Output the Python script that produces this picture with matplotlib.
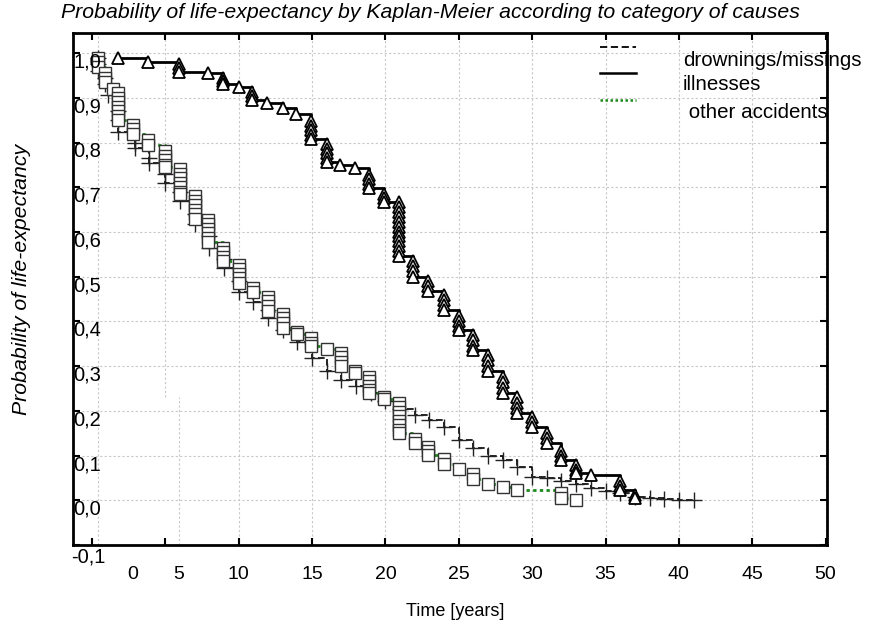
import matplotlib
matplotlib.use('Agg')
import matplotlib.pyplot as plt
import matplotlib.transforms as mtransforms

plt.rcParams['font.family'] = ['Liberation Sans', 'DejaVu Sans']

# Kaplan-Meier estimates (one entry per plotted marker)
ill_t = [1.8, 3.8, 5.9, 5.9, 5.9, 7.9, 8.9, 8.9, 8.9, 10.0, 10.9, 10.9, 10.9, 11.9, 13.0, 13.9,
         14.9, 14.9, 14.9, 14.9, 14.9, 16.0, 16.0, 16.0, 16.0, 16.0, 16.9, 17.9,
         18.9, 18.9, 18.9, 18.9, 19.9, 19.9, 19.9,
         20.9, 20.9, 20.9, 20.9, 20.9, 20.9, 20.9, 20.9, 20.9, 20.9, 20.9, 20.9,
         21.9, 21.9, 21.9, 21.9, 22.9, 22.9, 22.9, 24.0, 24.0, 24.0, 24.0,
         25.0, 25.0, 25.0, 25.0, 26.0, 26.0, 26.0, 26.0, 27.0, 27.0, 27.0, 27.0,
         28.0, 28.0, 28.0, 28.0, 29.0, 29.0, 29.0, 29.0, 30.0, 30.0, 30.0,
         31.0, 31.0, 31.0, 32.0, 32.0, 32.0, 33.0, 33.0, 33.0, 34.0,
         36.0, 36.0, 36.0, 37.0, 37.0]
ill_s = [0.990, 0.980, 0.975, 0.966, 0.958, 0.955, 0.945, 0.937, 0.930, 0.925, 0.914, 0.905, 0.896,
         0.888, 0.877, 0.864,
         0.848, 0.838, 0.828, 0.818, 0.808, 0.796, 0.786, 0.776, 0.766, 0.756, 0.750, 0.742,
         0.728, 0.718, 0.708, 0.698, 0.686, 0.676, 0.667,
         0.667, 0.656, 0.645, 0.634, 0.623, 0.612, 0.601, 0.590, 0.579, 0.568, 0.557, 0.546,
         0.536, 0.524, 0.512, 0.500, 0.490, 0.479, 0.468, 0.458, 0.447, 0.436, 0.425,
         0.412, 0.401, 0.390, 0.380, 0.370, 0.358, 0.346, 0.336, 0.325, 0.313, 0.301, 0.290,
         0.276, 0.264, 0.252, 0.240, 0.230, 0.218, 0.206, 0.195, 0.186, 0.174, 0.163,
         0.150, 0.139, 0.128, 0.110, 0.100, 0.090, 0.078, 0.068, 0.060, 0.056,
         0.042, 0.033, 0.024, 0.012, 0.004]

oth_t = [0.4, 0.4, 0.4, 0.9, 0.9, 0.9, 1.4, 1.8, 1.8, 1.8, 1.8, 1.8, 1.8, 1.8,
         2.8, 2.8, 2.8, 3.8, 3.8, 5.0, 5.0, 5.0, 5.0, 5.0,
         6.0, 6.0, 6.0, 6.0, 6.0, 6.0, 6.0, 7.0, 7.0, 7.0, 7.0, 7.0, 7.0,
         7.9, 7.9, 7.9, 7.9, 7.9, 7.9, 8.9, 8.9, 8.9, 8.9,
         10.0, 10.0, 10.0, 10.0, 10.0, 11.0, 11.0, 12.0, 12.0, 12.0, 12.0,
         13.0, 13.0, 13.0, 13.0, 14.0, 14.0, 14.9, 14.9, 14.9, 16.0,
         17.0, 17.0, 17.0, 17.0, 17.9, 17.9, 18.9, 18.9, 18.9, 18.9, 18.9, 19.9, 19.9,
         20.9, 20.9, 20.9, 20.9, 20.9, 20.9, 20.9, 20.9, 22.0, 22.0, 22.9, 22.9, 22.9,
         24.0, 24.0, 25.0, 26.0, 26.0, 27.0, 28.0, 29.0, 32.0, 32.0, 33.0]
oth_s = [0.990, 0.980, 0.970, 0.955, 0.945, 0.935, 0.920, 0.910, 0.900, 0.890, 0.880, 0.870, 0.860, 0.850,
         0.840, 0.830, 0.820, 0.805, 0.795, 0.780, 0.770, 0.760, 0.750, 0.745,
         0.740, 0.730, 0.720, 0.710, 0.700, 0.690, 0.685, 0.680, 0.670, 0.660, 0.650, 0.640, 0.630,
         0.627, 0.617, 0.607, 0.597, 0.587, 0.577, 0.565, 0.555, 0.545, 0.535,
         0.527, 0.517, 0.507, 0.497, 0.487, 0.475, 0.465, 0.455, 0.445, 0.435, 0.424,
         0.417, 0.407, 0.397, 0.386, 0.377, 0.372, 0.362, 0.352, 0.346, 0.338,
         0.330, 0.320, 0.310, 0.300, 0.290, 0.284, 0.276, 0.266, 0.256, 0.246, 0.240, 0.230, 0.226,
         0.218, 0.208, 0.198, 0.188, 0.178, 0.168, 0.158, 0.150, 0.137, 0.128, 0.120, 0.110, 0.102,
         0.092, 0.082, 0.070, 0.058, 0.047, 0.036, 0.029, 0.022, 0.016, 0.006, 0.000]

drw_t = [0.4, 0.4, 0.4, 0.9, 0.9, 1.1, 1.8, 1.8, 1.8, 2.9, 2.9, 3.9, 3.9, 5.0, 5.0, 6.0, 6.0,
         7.0, 7.0, 8.0, 8.0, 9.0, 9.0, 10.0, 10.0, 11.0, 12.0, 12.0, 13.0, 14.0, 15.0, 16.0,
         17.0, 18.0, 19.0, 20.0, 21.0, 22.0, 23.0, 24.0, 25.0, 26.0, 27.0, 28.0, 29.0, 30.0,
         31.0, 32.0, 33.0, 34.0, 35.0, 36.0, 37.0, 38.0, 39.0, 40.0, 41.0]
drw_s = [0.990, 0.975, 0.960, 0.945, 0.930, 0.906, 0.870, 0.850, 0.823, 0.800, 0.787, 0.765, 0.754,
         0.730, 0.710, 0.690, 0.670, 0.640, 0.617, 0.590, 0.565, 0.540, 0.520, 0.490, 0.465,
         0.443, 0.425, 0.407, 0.380, 0.353, 0.318, 0.290, 0.268, 0.255, 0.240, 0.222, 0.205,
         0.190, 0.179, 0.163, 0.134, 0.116, 0.100, 0.089, 0.074, 0.051, 0.049, 0.043, 0.036,
         0.027, 0.021, 0.016, 0.008, 0.005, 0.002, 0.001, 0.000]

y_ticks = [-0.1, 0.0, 0.1, 0.2, 0.3, 0.4, 0.5, 0.6, 0.7, 0.8, 0.9, 1.0]
y_labels = ['-0,1', '0,0', '0,1', '0,2', '0,3', '0,4', '0,5', '0,6', '0,7', '0,8', '0,9', '1,0']
x_ticks = [0, 5, 10, 15, 20, 25, 30, 35, 40, 45, 50]
x_labels = ['0', '5', '10', '15', '20', '25', '30', '35', '40', '45', '50']
# where the labels were actually printed (the first two are shifted in the original)
x_label_pos = [2.8, 5.9, 10, 15, 20, 25, 30, 35, 40, 45, 50]

legend_names = ['drownings/missings', 'illnesses', ' other accidents']

fig = plt.figure(figsize=(8.71, 6.31), dpi=100)
ax = fig.add_axes([0.0838, 0.1363, 0.8657, 0.8114])
ax.set_xlim(-1.3, 50.1)
ax.set_ylim(-0.1, 1.045)

# grid
grid_kw = dict(color='#c8c8c8', linestyle=(0, (2, 2)), linewidth=0.8, zorder=0)
for y in y_ticks[1:]:
    ax.axhline(y, **grid_kw)
ax.axvline(0.4, **grid_kw)
ax.axvline(5, ymin=(0.23 + 0.1) / 1.145, **grid_kw)
ax.axvline(5.9, ymax=(0.23 + 0.1) / 1.145, **grid_kw)
for x in x_ticks[2:]:
    ax.axvline(x, **grid_kw)

# curves
ax.step(drw_t, drw_s, where='post', color='black', linestyle=(0, (4, 2)), linewidth=1.2, zorder=2)
ax.plot(drw_t, drw_s, linestyle='none', marker='+', markersize=11, markeredgewidth=1.0,
        color='#222222', zorder=2)
ax.step(oth_t, oth_s, where='post', color='#1a8a1a', linestyle=(0, (1.2, 1.2)), linewidth=2.0, zorder=3)
ax.plot(oth_t, oth_s, linestyle='none', marker='s', markersize=8, markerfacecolor='white',
        markeredgecolor='#333333', markeredgewidth=1.0, zorder=3)
ax.step(ill_t, ill_s, where='post', color='black', linewidth=2.0, zorder=4)
ax.plot(ill_t, ill_s, linestyle='none', marker='^', markersize=8, markerfacecolor='white',
        markeredgecolor='black', markeredgewidth=1.3, zorder=4)

# ticks (inward, labels drawn by hand)
ax.set_xticks(x_ticks)
ax.set_yticks(y_ticks)
ax.set_xticklabels([])
ax.set_yticklabels([])
ax.tick_params(direction='in', length=5, width=1.5, top=True, right=True)
for sp in ax.spines.values():
    sp.set_linewidth(2)

ytrans = mtransforms.blended_transform_factory(ax.transAxes, ax.transData)
for y, lab in zip(y_ticks, y_labels):
    if y < 0:
        ax.text(-0.003, y - 0.026, lab, transform=ytrans, ha='left', va='center',
                fontsize=14.5, clip_on=False)
    else:
        ax.text(0.001, y - 0.02, lab, transform=ytrans, ha='left', va='center',
                fontsize=14.5, clip_on=False)

xtrans = mtransforms.blended_transform_factory(ax.transData, ax.transAxes)
for x, lab in zip(x_label_pos, x_labels):
    ax.text(x, -0.058, lab, transform=xtrans, ha='center', va='center', fontsize=14, clip_on=False)

fig.text(455 / 871, 1 - 612 / 631, 'Time [years]', ha='center', va='center', fontsize=13)
fig.text(22 / 871, 1 - 279 / 631, 'Probability of life-expectancy', rotation=90, ha='center',
         va='center', fontsize=15.3, style='italic')
fig.text(430 / 871, 1 - 12 / 631,
         'Probability of life-expectancy by Kaplan-Meier according to category of causes',
         ha='center', va='center', fontsize=15.3, style='italic')

# legend drawn by hand
leg_styles = [dict(color='black', linestyle=(0, (4, 2)), linewidth=1.3),
              dict(color='black', linewidth=1.8),
              dict(color='#1a8a1a', linestyle=(0, (1, 1)), linewidth=1.8)]
leg_handle_y = [47, 73, 100]
leg_text_y = [60, 84, 112]
for st, hy, ty, name in zip(leg_styles, leg_handle_y, leg_text_y, legend_names):
    fig.add_artist(plt.Line2D([600 / 871, 636 / 871], [1 - hy / 631, 1 - hy / 631], **st))
    fig.text(683 / 871, 1 - ty / 631, name, ha='left', va='center', fontsize=14.8)

fig.savefig('out.png', dpi=100, facecolor='white')
